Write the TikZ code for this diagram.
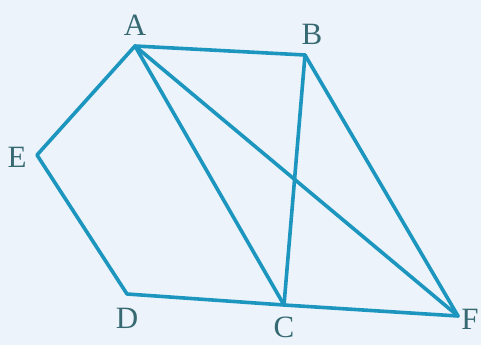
\documentclass[tikz,border=0pt]{standalone}
\usepackage{fontspec}
\setmainfont{Liberation Serif}
\usetikzlibrary{positioning}
\definecolor{edgeblue}{RGB}{28,150,190}
\definecolor{labelgray}{RGB}{55,105,115}
\definecolor{bgblue}{RGB}{236,243,250}

\begin{document}
\begin{tikzpicture}[
    x=1pt, y=-1pt,
    edge/.style={draw=edgeblue, line width=3.6pt, line join=round, line cap=round},
    lbl/.style={text=labelgray, font=\fontsize{31}{31}\selectfont, inner sep=0pt}
]

% Background
\fill[bgblue] (0,0) rectangle (481,345);
\useasboundingbox (0,0) rectangle (481,345);

% Vertices
\coordinate (A) at (135,46);
\coordinate (B) at (305,55);
\coordinate (E) at (37,155);
\coordinate (D) at (127,294);
\coordinate (C) at (284,305);
\coordinate (F) at (458,316);

% Edges
\draw [edge] (A) -- (B);
\draw [edge] (A) -- (E) -- (D) -- (C) -- (F);
\draw [edge] (A) -- (C);
\draw [edge] (A) -- (F);
\draw [edge] (B) -- (C);
\draw [edge] (B) -- (F);

% Labels
\node (la) [lbl] at (135,25) {A};
\node (lb) [lbl] at (312,34) {B};
\node (le) [lbl] at (17,157) {E};
\node (ld) [lbl] at (127,318) {D};
\node (lc) [lbl] at (284,327) {C};
\node (lf) [lbl] at (470,319) {F};

\end{tikzpicture}
\end{document}
